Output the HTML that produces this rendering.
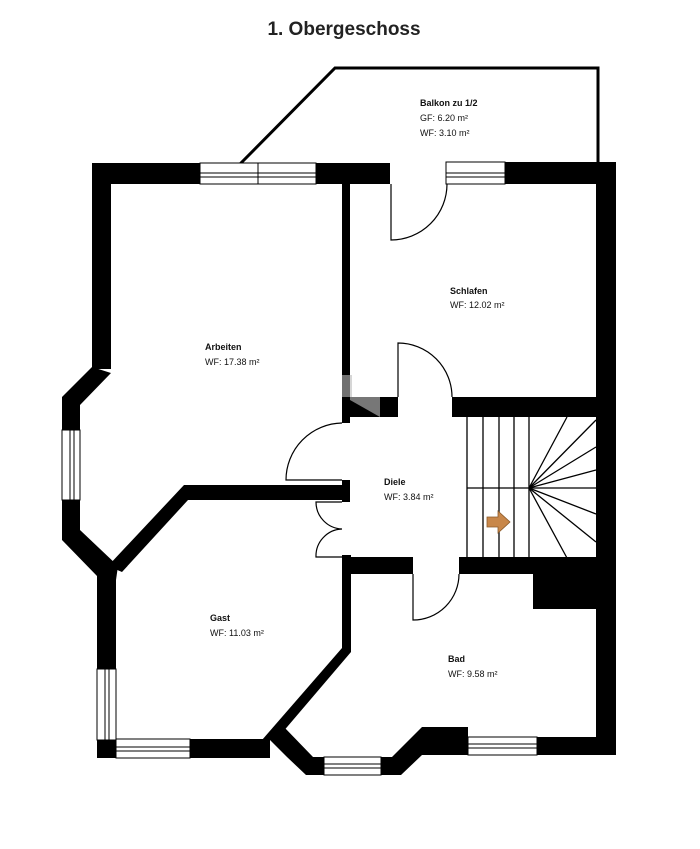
<!DOCTYPE html>
<html><head><meta charset="utf-8"><style>
html,body{margin:0;padding:0;background:#fff;}
svg{display:block}
text{font-family:"Liberation Sans",Arial,sans-serif;fill:#111}
.b{font-weight:bold;font-size:9px}
.r{font-size:9px}
</style></head><body>
<svg width="700" height="849" viewBox="0 0 700 849" xmlns="http://www.w3.org/2000/svg">
<rect width="700" height="849" fill="#fff"/>
<text x="344" y="35" text-anchor="middle" font-size="19" font-weight="bold" style="fill:#222">1. Obergeschoss</text>

<!-- balcony -->
<polyline points="240,164 335,68 598,68 598,162" fill="none" stroke="#000" stroke-width="3"/>
<text x="420" y="106" class="b">Balkon zu 1/2</text>
<text x="420" y="121" class="r">GF: 6.20 m²</text>
<text x="420" y="136" class="r">WF: 3.10 m²</text>

<g fill="#000">
<!-- top wall -->
<rect x="92" y="163" width="108" height="21"/>
<rect x="316" y="163" width="74" height="21"/>
<rect x="505" y="162" width="111" height="22"/>
<!-- right wall -->
<rect x="596" y="162" width="20" height="593"/>
<!-- left Arbeiten wall -->
<rect x="92" y="163" width="19" height="206"/>
<polygon points="92,367 111,373 80,405 80,430 62,430 62,397"/>
<rect x="62" y="500" width="18" height="32"/>
<polygon points="62,530 80,530 118,566 116,580 97,576 62,540"/>
<!-- Gast left wall -->
<rect x="97" y="565" width="19" height="104"/>
<rect x="97" y="740" width="19" height="18"/>
<!-- Gast bottom -->
<rect x="190" y="739" width="80" height="19"/>
<!-- Gast/Bad diagonal + vertical -->
<polygon points="262,740 342,648 342,555 351,555 351,652 276,740"/>
<!-- Bad bay -->
<polygon points="270,740 284,727 313,757 324,757 324,775 306,775 287,757"/>
<rect x="381" y="757" width="12" height="18"/>
<polygon points="392,757 422,727 468,727 468,755 422,755 401,775 392,775"/>
<rect x="537" y="737" width="79" height="18"/>
<!-- Arbeiten/Gast wall -->
<polygon points="184,485 350,485 350,500 188,500 122,572 108,566"/>
<!-- Arbeiten/Diele wall -->
<rect x="342" y="183" width="8" height="240"/>
<rect x="342" y="480" width="8" height="22"/>
<!-- Schlafen/Diele wall -->
<rect x="342" y="397" width="56" height="20"/>
<rect x="452" y="397" width="164" height="20"/>
<!-- Diele/Bad wall -->
<rect x="342" y="557" width="71" height="17"/>
<rect x="459" y="557" width="157" height="17"/>
<rect x="533" y="574" width="63" height="35"/>
</g>
<!-- watermark shade -->
<polygon points="350,397 380,397 380,417 350,400" fill="#777"/>
<polygon points="342,375 352,375 352,397 342,397" fill="#bbb" opacity=".6"/>

<!-- windows -->
<g fill="#fff" stroke="#000" stroke-width="1">
<rect x="200" y="163" width="116" height="21"/>
<line x1="200" y1="173" x2="316" y2="173"/><line x1="200" y1="177" x2="316" y2="177"/>
<line x1="258" y1="163" x2="258" y2="184"/>
<rect x="446" y="162" width="59" height="22"/>
<line x1="446" y1="173" x2="505" y2="173"/><line x1="446" y1="177" x2="505" y2="177"/>
<rect x="62" y="430" width="18" height="70"/>
<line x1="70" y1="430" x2="70" y2="500"/><line x1="74" y1="430" x2="74" y2="500"/>
<rect x="97" y="669" width="19" height="71"/>
<line x1="105" y1="669" x2="105" y2="740"/><line x1="109" y1="669" x2="109" y2="740"/>
<rect x="116" y="739" width="74" height="19"/>
<line x1="116" y1="747" x2="190" y2="747"/><line x1="116" y1="751" x2="190" y2="751"/>
<rect x="324" y="757" width="57" height="18"/>
<line x1="324" y1="764" x2="381" y2="764"/><line x1="324" y1="768" x2="381" y2="768"/>
<rect x="468" y="737" width="69" height="18"/>
<line x1="468" y1="744" x2="537" y2="744"/><line x1="468" y1="748" x2="537" y2="748"/>
</g>

<!-- doors -->
<g fill="none" stroke="#000" stroke-width="1.2">
<path d="M391,184 V240 A56,56 0 0 0 447,184"/>
<path d="M398,397 V343 A54,54 0 0 1 452,397"/>
<path d="M342,423 A57,57 0 0 0 286,480 H342"/>
<path d="M342,502 H316 A27,27 0 0 0 342,529 A27,27 0 0 0 316,557 H342"/>
<path d="M413,574 V620 A46,46 0 0 0 459,574"/>
</g>

<!-- stairs -->
<g stroke="#000" stroke-width="1.3" fill="none">
<rect x="466" y="417" width="130" height="141" stroke="none"/>
<line x1="467" y1="417" x2="467" y2="558"/>
<line x1="483" y1="417" x2="483" y2="558"/>
<line x1="499" y1="417" x2="499" y2="558"/>
<line x1="514" y1="417" x2="514" y2="558"/>
<line x1="529" y1="417" x2="529" y2="558"/>
<line x1="467" y1="488" x2="596" y2="488"/>
<line x1="529" y1="488" x2="567" y2="417"/>
<line x1="529" y1="488" x2="596" y2="420"/>
<line x1="529" y1="488" x2="596" y2="447"/>
<line x1="529" y1="488" x2="596" y2="470"/>
<line x1="529" y1="488" x2="596" y2="514"/>
<line x1="529" y1="488" x2="596" y2="542"/>
<line x1="529" y1="488" x2="567" y2="558"/>
</g>
<polygon points="487,517 498,517 498,511 510,522 498,533 498,527 487,527" fill="#c8874a" stroke="#8a5a2a" stroke-width="0.8"/>

<!-- labels -->
<text x="205" y="350" class="b">Arbeiten</text>
<text x="205" y="365" class="r">WF: 17.38 m²</text>
<text x="450" y="294" class="b">Schlafen</text>
<text x="450" y="308" class="r">WF: 12.02 m²</text>
<text x="384" y="485" class="b">Diele</text>
<text x="384" y="500" class="r">WF: 3.84 m²</text>
<text x="210" y="621" class="b">Gast</text>
<text x="210" y="636" class="r">WF: 11.03 m²</text>
<text x="448" y="662" class="b">Bad</text>
<text x="448" y="677" class="r">WF: 9.58 m²</text>
</svg>
</body></html>
